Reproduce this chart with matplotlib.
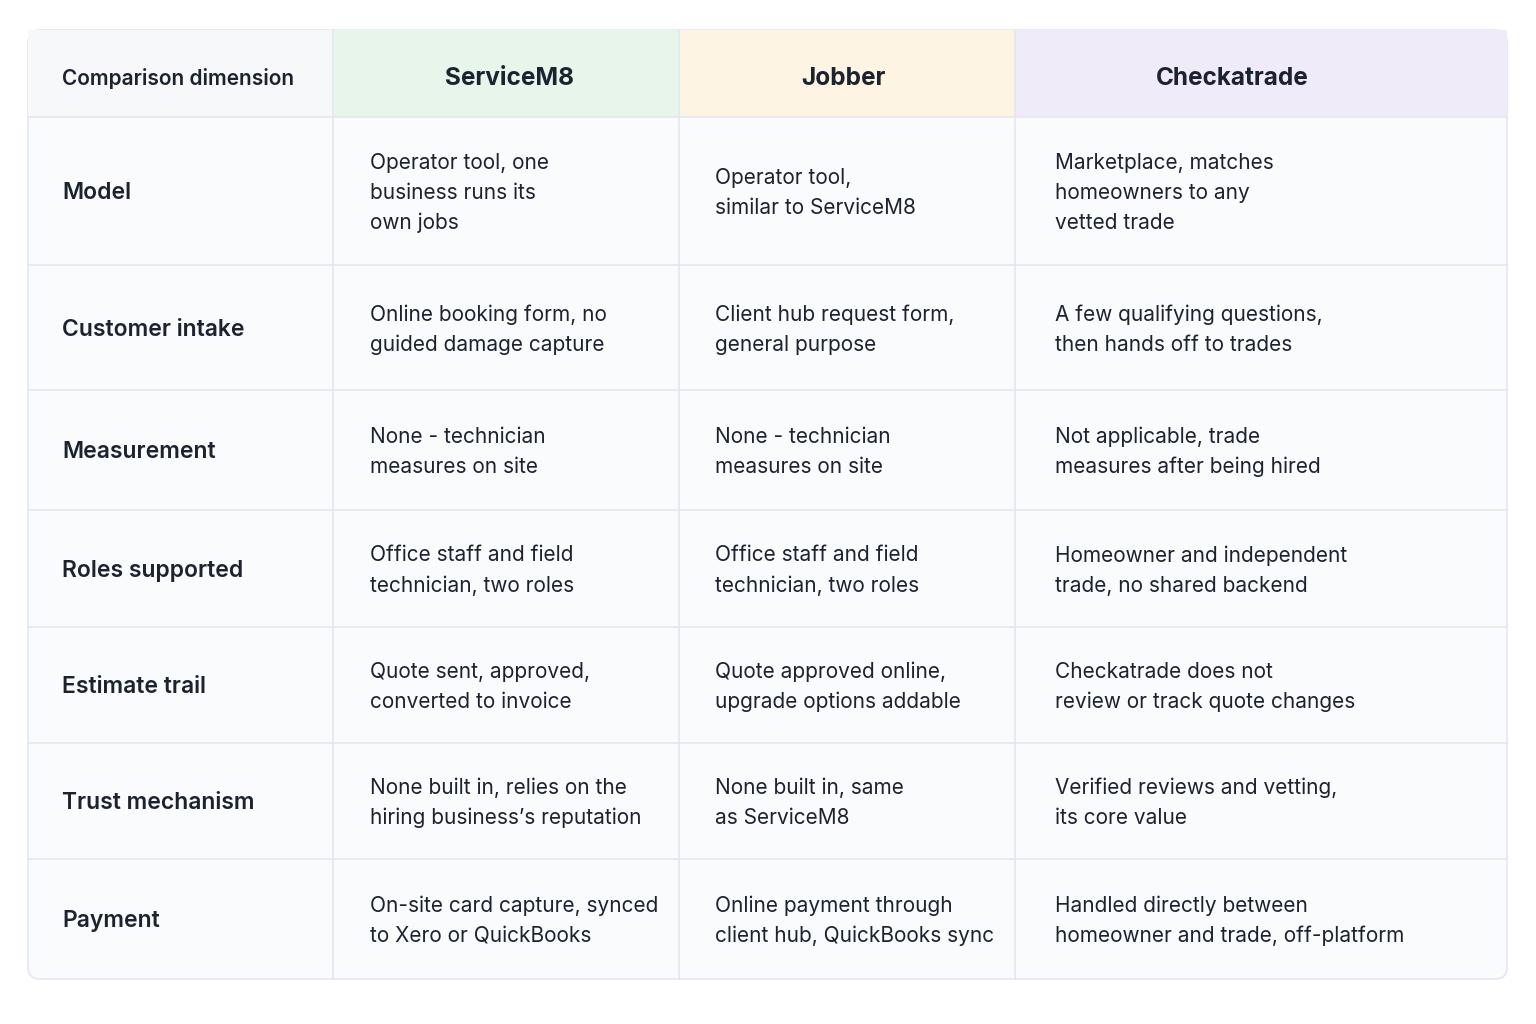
import matplotlib.pyplot as plt
from matplotlib.patches import FancyBboxPatch, Rectangle

plt.rcParams['font.family'] = ['Inter', 'DejaVu Sans']

headers = ["Comparison dimension", "ServiceM8", "Jobber", "Checkatrade"]
header_colors = ["#f7f8fa", "#e7f5ea", "#fdf4e3", "#efebf9"]
dimensions = ["Model", "Customer intake", "Measurement", "Roles supported",
              "Estimate trail", "Trust mechanism", "Payment"]
servicem8 = [
    "Operator tool, one\nbusiness runs its\nown jobs",
    "Online booking form, no\nguided damage capture",
    "None - technician\nmeasures on site",
    "Office staff and field\ntechnician, two roles",
    "Quote sent, approved,\nconverted to invoice",
    "None built in, relies on the\nhiring business’s reputation",
    "On-site card capture, synced\nto Xero or QuickBooks",
]
jobber = [
    "Operator tool,\nsimilar to ServiceM8",
    "Client hub request form,\ngeneral purpose",
    "None - technician\nmeasures on site",
    "Office staff and field\ntechnician, two roles",
    "Quote approved online,\nupgrade options addable",
    "None built in, same\nas ServiceM8",
    "Online payment through\nclient hub, QuickBooks sync",
]
checkatrade = [
    "Marketplace, matches\nhomeowners to any\nvetted trade",
    "A few qualifying questions,\nthen hands off to trades",
    "Not applicable, trade\nmeasures after being hired",
    "Homeowner and independent\ntrade, no shared backend",
    "Checkatrade does not\nreview or track quote changes",
    "Verified reviews and vetting,\nits core value",
    "Handled directly between\nhomeowner and trade, off-platform",
]

col_x = [28, 333, 679, 1015, 1507]
row_y = [30, 117, 265, 390, 510, 627, 743, 859, 979]
header_cx = [None, 509, 843, 1232]
line_col = "#e4e7ee"
text_col = "#1c2230"

fig = plt.figure(figsize=(15.36, 10.24), dpi=100)
ax = fig.add_axes([0, 0, 1, 1])
ax.set_xlim(0, 1536)
ax.set_ylim(1024, 0)
ax.axis("off")

ax.add_patch(FancyBboxPatch((col_x[0], row_y[0]), col_x[-1] - col_x[0], row_y[-1] - row_y[0],
                            boxstyle="round,pad=0,rounding_size=12", fc="#fafbfd",
                            ec=line_col, lw=1.2, zorder=1))
for i, c in enumerate(header_colors):
    ax.add_patch(Rectangle((col_x[i], row_y[0]), col_x[i + 1] - col_x[i], row_y[1] - row_y[0],
                           fc=c, ec="none", zorder=2))

for y in row_y[1:-1]:
    ax.plot([col_x[0], col_x[-1]], [y, y], color=line_col, lw=1.2, zorder=3)
for x in col_x[1:-1]:
    ax.plot([x, x], [row_y[0], row_y[-1]], color=line_col, lw=1.2, zorder=3)

pad = [34, 37, 36, 40]
hy = (row_y[0] + row_y[1]) / 2 + 5
ax.text(col_x[0] + pad[0], hy, headers[0], fontsize=15, fontweight="semibold",
        color=text_col, va="center", ha="left", zorder=4)
for i in range(1, 4):
    ax.text(header_cx[i], hy, headers[i], fontsize=17.5, fontweight="bold",
            color=text_col, va="center", ha="center", zorder=4)

for r, name in enumerate(dimensions):
    cy = (row_y[r + 1] + row_y[r + 2]) / 2 + 2
    ax.text(col_x[0] + pad[0], cy, name, fontsize=16.5, fontweight="semibold",
            color=text_col, va="center", ha="left", zorder=4)
    for c, col in enumerate([servicem8, jobber, checkatrade]):
        ax.text(col_x[c + 1] + pad[c + 1], cy, col[r], fontsize=15, color=text_col,
                va="center", ha="left", linespacing=1.6, zorder=4)

fig.savefig("out.png", dpi=100, facecolor="white")
